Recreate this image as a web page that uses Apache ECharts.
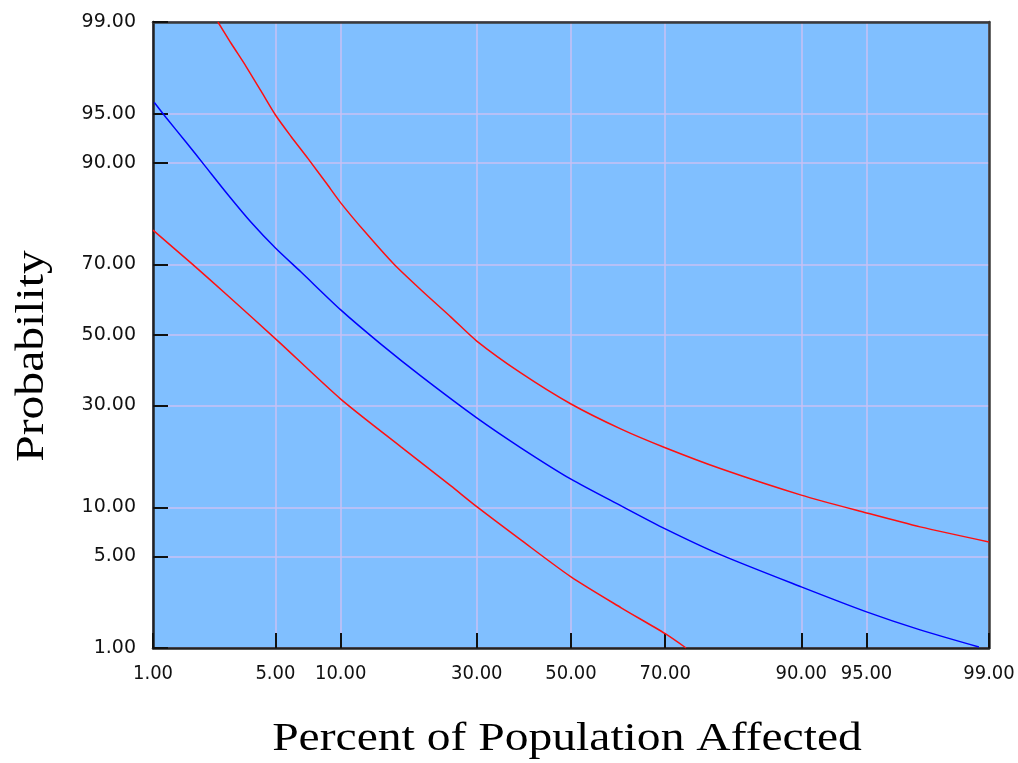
<!DOCTYPE html>
<html>
<head>
<meta charset="utf-8">
<script src="https://cdn.jsdelivr.net/npm/echarts@6/dist/echarts.min.js"></script>
<style>
html,body{margin:0;padding:0;background:#fff;}
#chart{width:1018px;height:763px;}
</style>
</head>
<body>
<div id="chart"></div>
<script>
// Tick labels (percent)
const xTicks = [1, 5, 10, 30, 50, 70, 90, 95, 99];
const yTicks = [1, 5, 10, 30, 50, 70, 90, 95, 99];

// Series values: [percent of population affected, probability], both in percent
const blueCurve = [
  [1.02, 95.8], [1.21, 94.7], [1.61, 92.4], [2.06, 89.7], [2.82, 85.1], [3.75, 79.9],
  [5.0, 74.1], [6.65, 68.0], [10, 57.4], [14.5, 47.3], [20.2, 38.0], [30, 26.9],
  [39, 20.1], [50, 14.2], [61, 10.2], [70, 7.48], [79.8, 5.11], [90, 3.06],
  [95, 1.98], [97.4, 1.42], [98.84, 1.02]
];
const upperRed = [
  [2.47, 99], [2.92, 98.5], [3.53, 97.7], [4.23, 96.5], [5.0, 94.9], [5.96, 93.0],
  [7.17, 90.5], [8.64, 87.1], [10, 83.7], [12.5, 78.0], [16.2, 70.1], [20.2, 63.1],
  [25.2, 55.3], [30, 48.2], [39, 38.9], [50, 30.4], [61, 24.2], [70, 20.1],
  [79.8, 16.0], [90, 11.7], [95, 9.3], [97.4, 7.69], [99, 6.2]
];
const lowerRed = [
  [1.0, 78.2], [1.72, 70.4], [2.82, 61.4], [5.15, 48.2], [10, 31.7], [17.2, 20.3],
  [25.2, 13.1], [30, 10.1], [39, 6.39], [50, 3.61], [61, 2.13], [70, 1.32], [73.9, 1.0]
];

// normal-probability (probit) transform for probability-paper axes
function probit(p) {
  const a = [-3.969683028665376e+01, 2.209460984245205e+02, -2.759285104469687e+02, 1.383577518672690e+02, -3.066479806614716e+01, 2.506628277459239e+00];
  const b = [-5.447609879822406e+01, 1.615858368580409e+02, -1.556989798598866e+02, 6.680131188771972e+01, -1.328068155288572e+01];
  const c = [-7.784894002430293e-03, -3.223964580411365e-01, -2.400758277161838e+00, -2.549732539343734e+00, 4.374664141464968e+00, 2.938163982698783e+00];
  const d = [7.784695709041462e-03, 3.224671290700398e-01, 2.445134137142996e+00, 3.754408661907416e+00];
  const pl = 0.02425, ph = 1 - pl;
  let q, r;
  if (p < pl) {
    q = Math.sqrt(-2 * Math.log(p));
    return (((((c[0]*q+c[1])*q+c[2])*q+c[3])*q+c[4])*q+c[5]) / ((((d[0]*q+d[1])*q+d[2])*q+d[3])*q+1);
  }
  if (p <= ph) {
    q = p - 0.5; r = q * q;
    return (((((a[0]*r+a[1])*r+a[2])*r+a[3])*r+a[4])*r+a[5])*q / (((((b[0]*r+b[1])*r+b[2])*r+b[3])*r+b[4])*r+1);
  }
  q = Math.sqrt(-2 * Math.log(1 - p));
  return -(((((c[0]*q+c[1])*q+c[2])*q+c[3])*q+c[4])*q+c[5]) / ((((d[0]*q+d[1])*q+d[2])*q+d[3])*q+1);
}
const toZ = v => probit(v / 100);
const conv = arr => arr.map(pt => [toZ(pt[0]), toZ(pt[1])]);

const xZ = xTicks.map(toZ);
const yZ = yTicks.map(toZ);
function labelFor(zArr, ticks) {
  return function (val) {
    for (let i = 0; i < zArr.length; i++) {
      if (Math.abs(zArr[i] - val) < 1e-6) return ticks[i].toFixed(2);
    }
    return '';
  };
}

const xMin = toZ(xTicks[0]), xMax = toZ(xTicks[xTicks.length - 1]);
const yMin = toZ(yTicks[0]), yMax = toZ(yTicks[yTicks.length - 1]);
const gridColor = '#C8C0F4';
const borderAxis = {
  axisLine: { show: true, onZero: false, lineStyle: { color: '#3a3a3a', width: 2.5 } },
  axisTick: { show: false }, axisLabel: { show: false }, splitLine: { show: false }
};

const chart = echarts.init(document.getElementById('chart'));
chart.setOption({
  backgroundColor: '#ffffff',
  animation: false,
  grid: {
    left: 153, right: 29, top: 22, bottom: 115,
    show: true, backgroundColor: '#80BFFF', borderColor: '#3a3a3a', borderWidth: 2
  },
  xAxis: [{
    type: 'value', min: xMin, max: xMax,
    axisLine: { show: true, onZero: false, lineStyle: { color: '#222', width: 2.5 } },
    axisTick: { show: true, inside: true, length: 15, customValues: xZ, lineStyle: { color: '#111', width: 2 } },
    axisLabel: {
      customValues: xZ, formatter: labelFor(xZ, xTicks), margin: 16,
      fontFamily: 'DejaVu Sans Condensed, DejaVu Sans', fontSize: 20, color: '#111'
    },
    splitLine: { show: true, lineStyle: { color: gridColor, width: 1.5 } }
  }, Object.assign({ type: 'value', position: 'top', min: xMin, max: xMax }, borderAxis)],
  yAxis: [{
    type: 'value', min: yMin, max: yMax,
    axisLine: { show: true, onZero: false, lineStyle: { color: '#222', width: 2.5 } },
    axisTick: { show: true, inside: true, length: 15, customValues: yZ, lineStyle: { color: '#111', width: 2 } },
    axisLabel: {
      customValues: yZ, formatter: labelFor(yZ, yTicks), margin: 17,
      fontFamily: 'DejaVu Sans', fontSize: 19, color: '#111'
    },
    splitLine: { show: true, lineStyle: { color: gridColor, width: 1.5 } }
  }, Object.assign({ type: 'value', position: 'right', min: yMin, max: yMax }, borderAxis)],
  series: [
    { type: 'line', data: conv(upperRed), symbol: 'none', smooth: 0.25,
      lineStyle: { color: '#FF1010', width: 1.5 }, clip: true },
    { type: 'line', data: conv(blueCurve), symbol: 'none', smooth: 0.25,
      lineStyle: { color: '#0000FF', width: 1.5 }, clip: true },
    { type: 'line', data: conv(lowerRed), symbol: 'none', smooth: 0.25,
      lineStyle: { color: '#FF1010', width: 1.5 }, clip: true }
  ],
  graphic: [
    { type: 'text', x: 567, y: 740, scaleX: 1.22,
      style: { text: 'Percent of Population Affected', fontFamily: 'Liberation Serif, Times New Roman, serif',
        fontSize: 39, fill: '#000', textAlign: 'center', textVerticalAlign: 'middle' } },
    { type: 'text', x: 33, y: 356, rotation: Math.PI / 2, scaleX: 1.22,
      style: { text: 'Probability', fontFamily: 'Liberation Serif, Times New Roman, serif',
        fontSize: 39, fill: '#000', textAlign: 'center', textVerticalAlign: 'middle' } }
  ]
});
</script>
</body>
</html>
